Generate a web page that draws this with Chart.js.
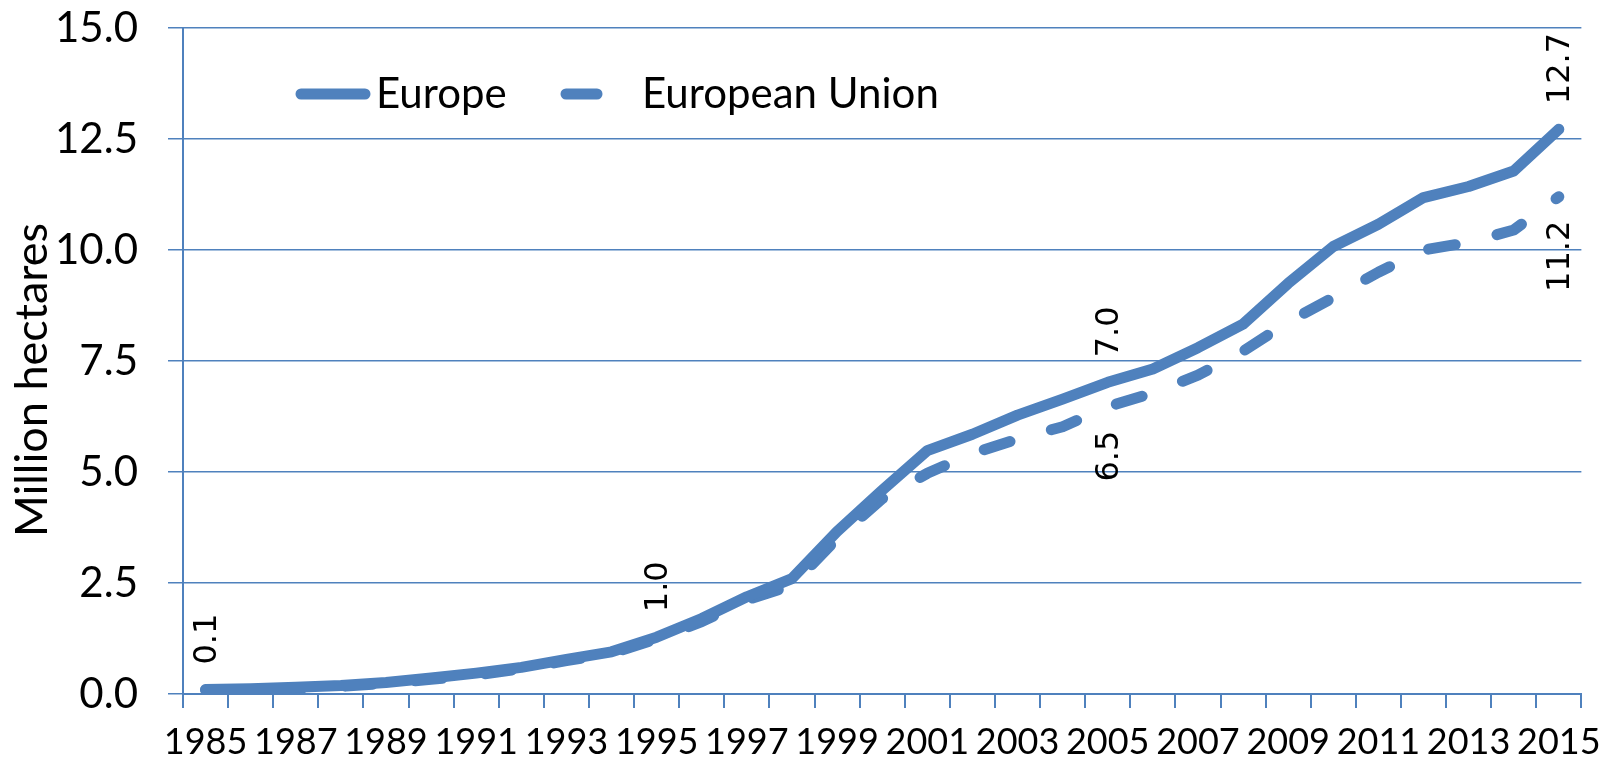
<!DOCTYPE html>
<html>
<head>
<meta charset="utf-8">
<title>Organic land, Europe and EU</title>
<script src="https://cdn.jsdelivr.net/npm/chart.js@4.4.1/dist/chart.umd.min.js"></script>
<style>
    html, body { margin: 0; padding: 0; background: #fff; }
    #wrap { width: 1614px; height: 766px; }
</style>
</head>
<body>
<div id="wrap"><canvas id="chart" width="1614" height="766"></canvas></div>
<script>
// -------------------------------------------------------------------------
// Data
// -------------------------------------------------------------------------
const years = ['1985', '1986', '1987', '1988', '1989', '1990', '1991', '1992', '1993', '1994',
    '1995', '1996', '1997', '1998', '1999', '2000', '2001', '2002', '2003', '2004',
    '2005', '2006', '2007', '2008', '2009', '2010', '2011', '2012', '2013', '2014', '2015'];

const europe = [0.10, 0.12, 0.15, 0.19, 0.26, 0.36, 0.47, 0.60, 0.78, 0.95,
    1.28, 1.70, 2.19, 2.60, 3.66, 4.59, 5.48, 5.85, 6.28, 6.64,
    7.02, 7.32, 7.80, 8.33, 9.25, 10.08, 10.58, 11.18, 11.43, 11.78, 12.72];

const europeanUnion = [0.09, 0.10, 0.13, 0.17, 0.24, 0.33, 0.43, 0.57, 0.75, 0.92,
    1.24, 1.63, 2.12, 2.45, 3.50, 4.40, 4.97, 5.42, 5.74, 6.02,
    6.47, 6.78, 7.18, 7.72, 8.38, 8.93, 9.50, 10.00, 10.17, 10.45, 11.20];

const shownYears = ['1985', '1987', '1989', '1991', '1993', '1995', '1997', '1999',
    '2001', '2003', '2005', '2007', '2009', '2011', '2013', '2015'];

const yTicks = [0, 2.5, 5, 7.5, 10, 12.5, 15];

const yTitle = 'Million hectares';

// value labels written next to some points: [dataset, index, text, side]
const valueLabels = [
    [0, 0, '0.1', 'above'],
    [0, 10, '1.0', 'above'],
    [0, 20, '7.0', 'above'],
    [1, 20, '6.5', 'below'],
    [0, 30, '12.7', 'above'],
    [1, 30, '11.2', 'below']
];

const BLUE = '#4F81BD';

// -------------------------------------------------------------------------
// Small plugins: rotated value labels, axis title and an in-plot legend
// -------------------------------------------------------------------------
const valueLabelPlugin = {
    id: 'valueLabels',
    afterDatasetsDraw(chart) {
        const ctx = chart.ctx;
        ctx.save();
        ctx.font = '32px "DejaVu Sans"';
        ctx.fillStyle = '#000';
        ctx.textBaseline = 'middle';
        valueLabels.forEach(([ds, idx, text, side]) => {
            const pt = chart.getDatasetMeta(ds).data[idx];
            if (!pt) return;
            ctx.save();
            if (side === 'above') {
                ctx.translate(pt.x + 2, pt.y - 25);
                ctx.rotate(-Math.PI / 2);
                ctx.textAlign = 'left';
            } else {
                ctx.translate(pt.x + 2, pt.y + 24);
                ctx.rotate(-Math.PI / 2);
                ctx.textAlign = 'right';
            }
            ctx.fillText(text, 0, 0);
            ctx.restore();
        });
        ctx.restore();
    }
};

const axisTitlePlugin = {
    id: 'yTitle',
    afterDraw(chart) {
        const ctx = chart.ctx;
        const area = chart.chartArea;
        ctx.save();
        ctx.translate(32, (area.top + area.bottom) / 2 + 19);
        ctx.rotate(-Math.PI / 2);
        ctx.font = '45px Lato';
        ctx.fillStyle = '#000';
        ctx.textAlign = 'center';
        ctx.textBaseline = 'middle';
        ctx.fillText(yTitle, 0, 0);
        ctx.restore();
    }
};

const legendPlugin = {
    id: 'insideLegend',
    afterDraw(chart) {
        const ctx = chart.ctx;
        const y = 94;
        const items = [
            { ds: 0, x1: 301, x2: 365, tx: 376 },
            { ds: 1, x1: 566, x2: 597, tx: 642 }
        ];
        ctx.save();
        items.forEach(it => {
            const d = chart.data.datasets[it.ds];
            ctx.strokeStyle = d.borderColor;
            ctx.lineWidth = d.borderWidth;
            ctx.lineCap = 'round';
            ctx.setLineDash([]);
            ctx.beginPath();
            ctx.moveTo(it.x1, y);
            ctx.lineTo(it.x2, y);
            ctx.stroke();
            ctx.fillStyle = '#000';
            ctx.font = '42px Lato';
            ctx.textAlign = 'left';
            ctx.textBaseline = 'middle';
            ctx.fillText(d.label, it.tx, y);
        });
        ctx.restore();
    }
};

// -------------------------------------------------------------------------
// Chart
// -------------------------------------------------------------------------
new Chart(document.getElementById('chart'), {
    type: 'line',
    data: {
        labels: years,
        datasets: [{
            label: 'Europe',
            data: europe,
            borderColor: BLUE,
            borderWidth: 11,
            borderCapStyle: 'round',
            borderJoinStyle: 'round',
            pointRadius: 0,
            tension: 0,
            fill: false
        }, {
            label: 'European Union',
            data: europeanUnion,
            borderColor: BLUE,
            borderWidth: 11,
            borderDash: [27, 43],
            borderCapStyle: 'round',
            borderJoinStyle: 'round',
            pointRadius: 0,
            tension: 0,
            fill: false
        }]
    },
    options: {
        responsive: false,
        animation: false,
        layout: { padding: { top: 28, right: 26, left: 0, bottom: 0 } },
        plugins: {
            legend: { display: false },
            tooltip: { enabled: false }
        },
        scales: {
            x: {
                offset: true,
                afterFit(scale) { scale.height = 72; },
                grid: {
                    offset: true,
                    drawOnChartArea: false,
                    drawTicks: true,
                    tickLength: 14,
                    color: BLUE,
                    lineWidth: 2
                },
                border: { color: BLUE, width: 2 },
                ticks: {
                    autoSkip: false,
                    maxRotation: 0,
                    minRotation: 0,
                    padding: 13,
                    color: '#000',
                    font: { family: 'Lato', size: 36 },
                    callback(value) {
                        const lab = this.getLabelForValue(value);
                        return shownYears.includes(lab) ? lab : '';
                    }
                }
            },
            y: {
                min: 0,
                max: 15,
                afterFit(scale) {
                    scale.width = 183;
                    scale.paddingTop = 0;
                    scale.paddingBottom = 0;
                },
                afterBuildTicks(scale) {
                    scale.ticks = yTicks.map(v => ({ value: v }));
                },
                grid: {
                    color: BLUE,
                    lineWidth: 1.5,
                    tickLength: 15
                },
                border: { color: BLUE, width: 2 },
                ticks: {
                    padding: 30,
                    color: '#000',
                    font: { family: 'Lato', size: 42 },
                    callback(value) { return Number(value).toFixed(1); }
                }
            }
        }
    },
    plugins: [valueLabelPlugin, axisTitlePlugin, legendPlugin]
});
</script>
</body>
</html>
